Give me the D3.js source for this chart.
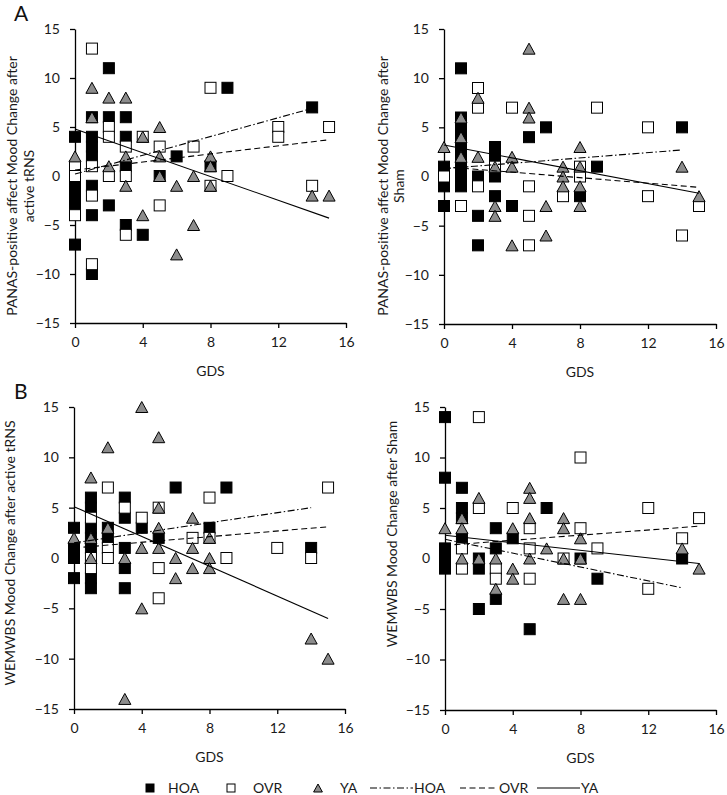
<!DOCTYPE html>
<html><head><meta charset="utf-8">
<script src="https://cdn.jsdelivr.net/npm/d3@7"></script>
<style>body{margin:0;background:#fff;} svg{display:block;font-family:Lato,'Open Sans',sans-serif;}</style>
</head><body>
<svg id="c" width="727" height="795"></svg>
<script>
// ---------- data ----------
const gdsTicks = [0, 4, 8, 12, 16];
const valueTicks = [-15, -10, -5, 0, 5, 10, 15];
const groupNames = ["HOA", "OVR", "YA"];

// A (left): PANAS-positive affect, active tRNS
const panasTrnsHOA = [[0,4],[0,0],[0,-1],[0,-2],[0,-3],[0,-7],[1,6],[1,4],[1,3],[1,2],[1,-1],[1,-4],[1,-10],[2,11],[2,6],[2,-3],[3,6],[3,4],[3,1],[3,-5],[4,-6],[5,0],[6,2],[8,1],[9,9],[14,7]];
const panasTrnsOVR = [[0,1],[0,0],[0,-4],[1,13],[1,1],[1,-2],[1,-9],[2,5],[2,4],[2,0],[3,3],[3,0],[3,-6],[4,4],[5,3],[5,-3],[7,3],[8,9],[8,-1],[9,0],[12,5],[12,4],[14,-1],[15,5]];
const panasTrnsYA  = [[0,2],[1,9],[1,6],[2,8],[2,1],[3,8],[3,2],[3,-1],[4,4],[4,-4],[5,5],[5,2],[5,0],[6,-1],[6,-8],[7,0],[7,-5],[8,2],[8,1],[8,-1],[14,-2],[15,-2]];
const panasTrnsTrendHOA = [[0,0.2],[14,6.9]];
const panasTrnsTrendOVR = [[0,0.6],[15,3.7]];
const panasTrnsTrendYA  = [[0,4.8],[15,-4.3]];

// A (right): PANAS-positive affect, Sham
const panasShamHOA = [[0,1],[0,-1],[0,-3],[1,11],[1,6],[1,5],[1,4],[1,3],[1,2],[1,1],[1,0],[1,-1],[2,0],[2,-4],[2,-7],[3,3],[3,2],[3,0],[3,-2],[4,-3],[5,4],[6,5],[8,-2],[9,1],[14,5]];
const panasShamOVR = [[0,0],[1,-3],[2,9],[2,7],[2,-1],[3,1],[4,7],[5,-1],[5,-4],[5,-7],[7,-2],[8,1],[8,0],[9,7],[12,5],[12,-2],[14,-6],[15,-3]];
const panasShamYA  = [[0,3],[1,6],[1,4],[1,2],[2,8],[2,2],[3,1],[3,-3],[3,-4],[4,2],[4,1],[4,-7],[5,13],[5,7],[5,6],[6,-3],[6,-6],[7,1],[7,0],[7,-1],[8,3],[8,1],[8,-1],[8,-3],[14,1],[15,-2]];
const panasShamTrendHOA = [[0,0.8],[14,2.7]];
const panasShamTrendOVR = [[0,1.0],[15,-1.1]];
const panasShamTrendYA  = [[0,3.2],[15,-1.7]];

// B (left): WEMWBS, active tRNS
const wemTrnsHOA = [[0,3],[0,1],[0,0],[0,-2],[1,6],[1,5],[1,3],[1,2],[1,1],[1,-2],[1,-3],[2,3],[2,2],[3,6],[3,4],[3,1],[3,-1],[3,-3],[4,3],[5,2],[6,7],[8,3],[9,7],[14,1]];
const wemTrnsOVR = [[1,4],[1,0],[1,-1],[2,7],[2,1],[2,0],[3,5],[4,4],[5,5],[5,-1],[5,-4],[7,2],[8,6],[8,2],[9,0],[12,1],[14,0],[15,7]];
const wemTrnsYA  = [[0,2],[1,8],[1,2],[1,0],[2,11],[2,3],[3,0],[3,-14],[4,15],[4,1],[4,-5],[5,12],[5,5],[5,3],[5,1],[6,0],[6,-2],[7,4],[7,1],[7,-1],[8,2],[8,0],[8,-1],[14,-8],[15,-10]];
const wemTrnsTrendHOA = [[0,1.5],[14,5.0]];
const wemTrnsTrendOVR = [[0,1.0],[15,3.1]];
const wemTrnsTrendYA  = [[0,5.1],[15,-6.0]];

// B (right): WEMWBS, Sham
const wemShamHOA = [[0,14],[0,8],[0,1],[0,0],[0,-1],[1,7],[1,5],[1,4],[1,2],[2,0],[2,-1],[2,-5],[3,3],[3,1],[3,-4],[4,2],[5,-7],[6,5],[8,0],[9,-2],[14,0]];
const wemShamOVR = [[1,1],[1,-1],[2,14],[2,5],[3,-1],[3,-2],[4,5],[5,3],[5,1],[5,-2],[7,0],[8,10],[8,3],[9,1],[12,5],[12,-3],[14,2],[15,4]];
const wemShamYA  = [[0,3],[1,4],[1,3],[1,0],[2,6],[2,0],[3,0],[3,-3],[4,3],[4,-1],[4,-2],[5,7],[5,6],[5,4],[5,0],[6,1],[7,4],[7,3],[7,0],[7,-4],[8,2],[8,0],[8,-4],[14,1],[15,-1]];
const wemShamTrendHOA = [[0,1.9],[14,-2.9]];
const wemShamTrendOVR = [[0,1.3],[15,3.2]];
const wemShamTrendYA  = [[0,2.3],[15,-0.5]];

const xTitle = "GDS";

// ---------- layout ----------
const panels = [
  {letter:"A", ylab:["PANAS-positive affect Mood Change after","active tRNS"], labX:[12,29], labY:186,
   pts:{HOA:panasTrnsHOA,OVR:panasTrnsOVR,YA:panasTrnsYA}, tr:{HOA:panasTrnsTrendHOA,OVR:panasTrnsTrendOVR,YA:panasTrnsTrendYA},
   x0:75, x1:346, yT:29, yB:323},
  {letter:null, ylab:["PANAS-positive affect Mood Change after","Sham"], labX:[383,399], labY:186,
   pts:{HOA:panasShamHOA,OVR:panasShamOVR,YA:panasShamYA}, tr:{HOA:panasShamTrendHOA,OVR:panasShamTrendOVR,YA:panasShamTrendYA},
   x0:444, x1:716, yT:29, yB:324},
  {letter:"B", ylab:["WEMWBS Mood Change after active tRNS"], labX:[10], labY:553,
   pts:{HOA:wemTrnsHOA,OVR:wemTrnsOVR,YA:wemTrnsYA}, tr:{HOA:wemTrnsTrendHOA,OVR:wemTrnsTrendOVR,YA:wemTrnsTrendYA},
   x0:74, x1:345, yT:407, yB:709},
  {letter:null, ylab:["WEMWBS Mood Change after Sham"], labX:[392], labY:534,
   pts:{HOA:wemShamHOA,OVR:wemShamOVR,YA:wemShamYA}, tr:{HOA:wemShamTrendHOA,OVR:wemShamTrendOVR,YA:wemShamTrendYA},
   x0:445, x1:716, yT:407, yB:710}
];

const lineDash = {HOA:"7,2.5,1.5,2.5", OVR:"6,3.5", YA:null};
const svg = d3.select("#c");
const FS = 14;
const TXT = "#1a1a1a";

function marker(g, type, cx, cy, s){
  if(type==="HOA"){
    g.append("rect").attr("x",cx-s/2).attr("y",cy-s/2).attr("width",s).attr("height",s)
      .attr("fill","#000").attr("stroke","#000").attr("stroke-width",1);
  } else if(type==="OVR"){
    g.append("rect").attr("x",cx-s/2).attr("y",cy-s/2).attr("width",s).attr("height",s)
      .attr("fill","#fff").attr("stroke","#000").attr("stroke-width",1);
  } else {
    const h=s, w=s*1.1;
    g.append("path").attr("d",`M${cx},${cy-h/2}L${cx+w/2},${cy+h/2}L${cx-w/2},${cy+h/2}Z`)
      .attr("fill","#8c8c8c").attr("stroke","#000").attr("stroke-width",1).attr("stroke-linejoin","miter");
  }
}

panels.forEach(p=>{
  const x = d3.scaleLinear().domain([0,16]).range([p.x0,p.x1]);
  const y = d3.scaleLinear().domain([-15,15]).range([p.yB,p.yT]);
  const g = svg.append("g");

  // axes
  const ax = g.append("g").attr("transform",`translate(0,${p.yB})`)
    .call(d3.axisBottom(x).tickValues(gdsTicks).tickSize(5).tickSizeOuter(0).tickPadding(9));
  const ay = g.append("g").attr("transform",`translate(${p.x0},0)`)
    .call(d3.axisLeft(y).tickValues(valueTicks).tickSize(5).tickSizeOuter(0).tickPadding(10));
  [ax,ay].forEach(a=>{
    a.selectAll("path,line").attr("stroke","#000").attr("stroke-width",1.3);
    a.selectAll("text").attr("font-size",FS).attr("fill",TXT).attr("font-family","Lato,'Open Sans',sans-serif");
  });

  // x title
  g.append("text").attr("x",(p.x0+p.x1)/2).attr("y",p.yB+53).attr("text-anchor","middle")
    .attr("font-size",FS).attr("fill",TXT).text(xTitle);

  // y title
  p.ylab.forEach((t,i)=>{
    g.append("text").attr("transform",`translate(${p.labX[i]},${p.labY}) rotate(-90)`)
      .attr("text-anchor","middle").attr("dy","0.35em").attr("font-size",FS).attr("fill",TXT).text(t);
  });

  if(p.letter){
    g.append("text").attr("x",14).attr("y",p.yT-8).attr("font-size",21).attr("fill","#111").text(p.letter);
  }

  // points: HOA, then OVR, then YA
  groupNames.forEach(k=>{
    const mg = g.append("g");
    p.pts[k].forEach(d=> marker(mg,k,x(d[0]),y(d[1]),11));
  });

  // trend lines
  const line = d3.line().x(d=>x(d[0])).y(d=>y(d[1]));
  groupNames.forEach(k=>{
    g.append("path").datum(p.tr[k]).attr("d",line).attr("fill","none")
      .attr("stroke","#000").attr("stroke-width",1.1)
      .attr("stroke-dasharray",lineDash[k]);
  });
});

// legend
const lg = svg.append("g");
const ly = 788;
const legItems = [
  {type:"HOA", mx:150, tx:168},
  {type:"OVR", mx:231, tx:253},
  {type:"YA",  mx:318, tx:340}
];
legItems.forEach(it=>{
  marker(lg,it.type,it.mx,ly,8);
  lg.append("text").attr("x",it.tx).attr("y",ly).attr("dy","0.35em").attr("font-size",FS).attr("fill",TXT).text(it.type);
});
const legLines = [
  {type:"HOA", l0:370, l1:413, tx:414},
  {type:"OVR", l0:460, l1:497, tx:499},
  {type:"YA",  l0:537, l1:580, tx:581}
];
legLines.forEach(it=>{
  lg.append("line").attr("x1",it.l0).attr("x2",it.l1).attr("y1",ly).attr("y2",ly)
    .attr("stroke","#000").attr("stroke-width",1.1).attr("stroke-dasharray",lineDash[it.type]);
  lg.append("text").attr("x",it.tx).attr("y",ly).attr("dy","0.35em").attr("font-size",FS).attr("fill",TXT).text(it.type);
});
</script>
</body></html>
